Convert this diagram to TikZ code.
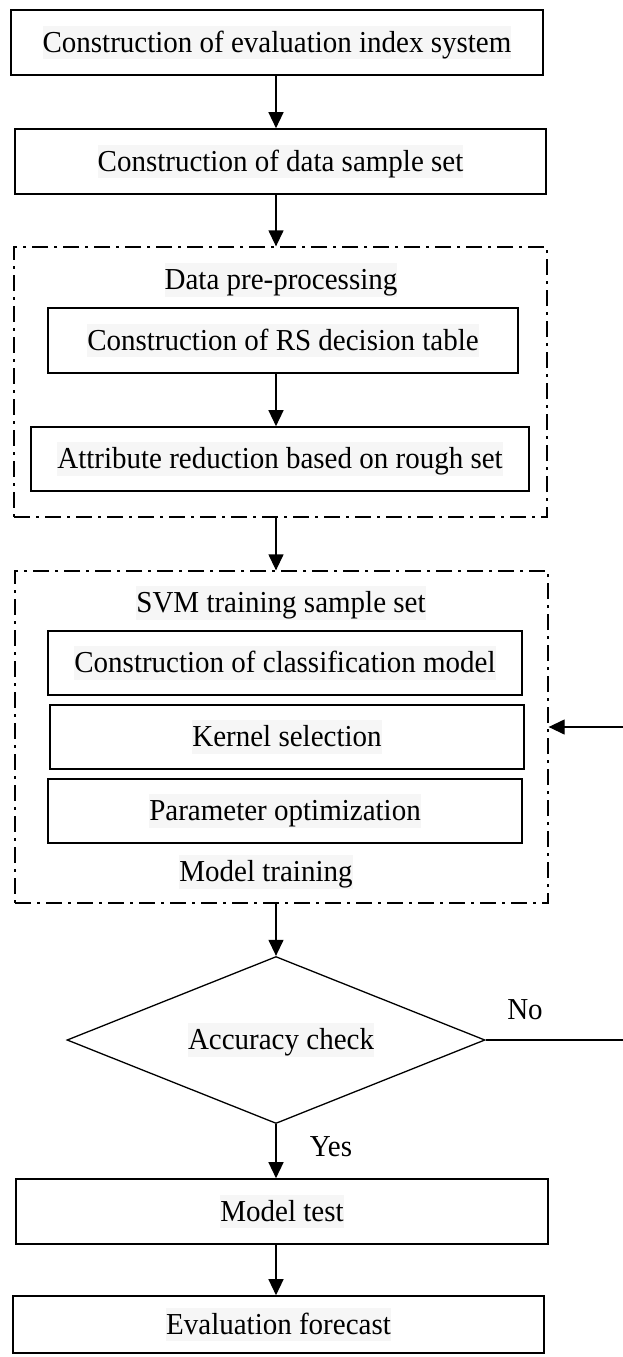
\documentclass[tikz,border=0pt]{standalone}
\usepackage{fontspec}
\setmainfont{Liberation Serif}
\usetikzlibrary{arrows.meta,shapes.geometric}
\definecolor{hlgray}{RGB}{246,246,246}
\newcommand{\hltxt}[1]{{\setlength{\fboxsep}{0pt}\colorbox{hlgray}{\rule[-0.24em]{0pt}{1.14em}\scalebox{1}[1.05]{#1}}}}
\begin{document}
\begin{tikzpicture}[x=1pt,y=-1pt,
  font=\fontsize{29}{34}\selectfont,
  procbox/.style={draw,line width=1.6pt,rectangle,inner sep=0pt},
  groupbox/.style={draw,line width=1.3pt,rectangle,inner sep=0pt,dash pattern=on 16pt off 6pt on 3pt off 6pt},
  txt/.style={inner sep=0pt},
  flow/.style={line width=1.3pt,-{Triangle[length=16pt,width=15pt]}},
  plain/.style={line width=1.3pt}]
\useasboundingbox (0,0) rectangle (622,1357);
% main boxes
\node[procbox,minimum width=532pt,minimum height=65pt] (b1) at (277,42.5) {\hltxt{Construction of evaluation index system}};
\node[procbox,minimum width=531pt,minimum height=65pt] (b2) at (280.5,161.5) {\hltxt{Construction of data sample set}};
% group 1
\node[groupbox,minimum width=533pt,minimum height=270pt] (g1) at (280.5,382) {};
\node[txt] (g1t) at (281,280) {\hltxt{Data pre-processing}};
\node[procbox,minimum width=470pt,minimum height=65pt] (rs) at (283,340.5) {\hltxt{Construction of RS decision table}};
\node[procbox,minimum width=498pt,minimum height=64pt] (ar) at (280,459) {\hltxt{Attribute reduction based on rough set}};
% group 2
\node[groupbox,minimum width=533pt,minimum height=332pt] (g2) at (281.5,737) {};
\node[txt] (g2t) at (281,603) {\hltxt{SVM training sample set}};
\node[procbox,minimum width=474pt,minimum height=64pt] (cm) at (285,663) {\hltxt{Construction of classification model}};
\node[procbox,minimum width=474pt,minimum height=64pt] (ks) at (287,737) {\hltxt{Kernel selection}};
\node[procbox,minimum width=474pt,minimum height=64pt] (po) at (285,811) {\hltxt{Parameter optimization}};
\node[txt] (g2b) at (266,872) {\hltxt{Model training}};
% decision
\node[draw,line width=1.3pt,diamond,aspect=2.5,minimum width=418pt,minimum height=167pt,inner sep=0pt] (dc) at (276,1040) {};
\node[txt] (dct) at (281,1040) {\hltxt{Accuracy check}};
\node[txt] (no) at (525,1010) {\scalebox{1}[1.05]{No}};
\node[txt] (yes) at (331,1147) {\scalebox{1}[1.05]{Yes}};
% bottom boxes
\node[procbox,minimum width=532pt,minimum height=65pt] (mt) at (282,1211.5) {\hltxt{Model test}};
\node[procbox,minimum width=531pt,minimum height=57pt] (ef) at (278.5,1324.5) {\hltxt{Evaluation forecast}};
% connectors
\coordinate (c1) at (626,1040);
\coordinate (c2) at (626,727);
\draw[flow] (b1.south -| 276,0) -- (b2.north -| 276,0);
\draw[flow] (b2.south -| 276,0) -- (g1.north -| 276,0);
\draw[flow] (rs.south -| 276,0) -- (ar.north -| 276,0);
\draw[flow] (g1.south -| 276,0) -- (g2.north -| 276,0);
\draw[flow] (g2.south -| 276,0) -- (dc.north);
\draw[flow] (dc.south) -- (mt.north -| 276,0);
\draw[flow] (mt.south -| 276,0) -- (ef.north -| 276,0);
\draw[flow] (dc.east) -- (c1) -- (c2) -- (g2.east |- c2);
\end{tikzpicture}
\end{document}
